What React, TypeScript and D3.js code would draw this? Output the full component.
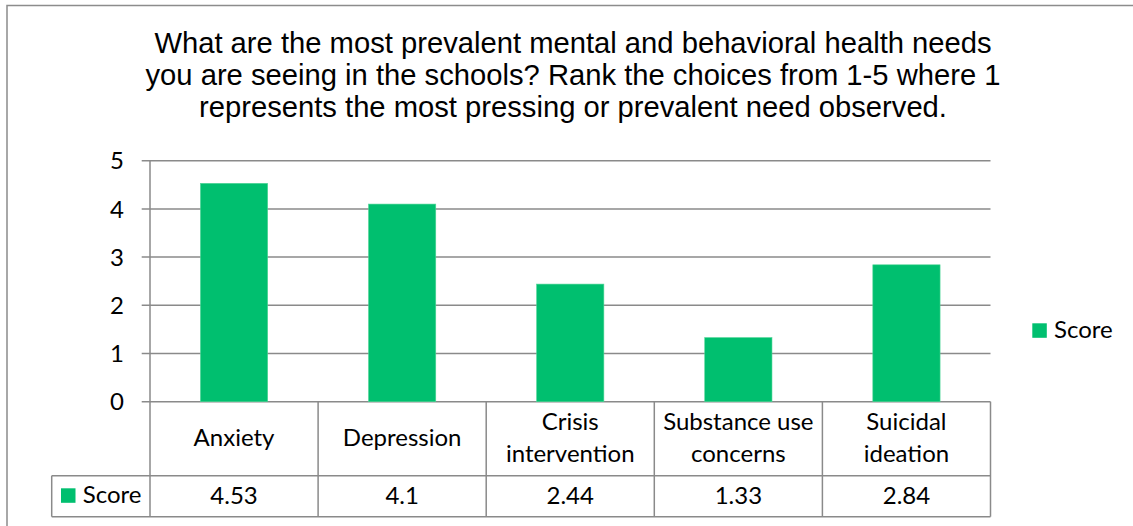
import React from "react";
import * as d3 from "d3";

// Survey ranking scores per mental/behavioral health need
const categories: string[][] = [
  ["Anxiety"],
  ["Depression"],
  ["Crisis", "intervention"],
  ["Substance use", "concerns"],
  ["Suicidal", "ideation"],
];
const scores: number[] = [4.53, 4.1, 2.44, 1.33, 2.84];
const valueLabels: string[] = ["4.53", "4.1", "2.44", "1.33", "2.84"];
const yTicks: number[] = [0, 1, 2, 3, 4, 5];
const seriesName = "Score";
const titleLines: string[] = [
  "What are the most prevalent mental and behavioral health needs",
  "you are seeing in the schools? Rank the choices from 1-5 where 1",
  "represents the most pressing or prevalent need observed.",
];

const W = 1133;
const H = 526;
const GREEN = "#00bf6f";
const GRID = "#8a8a8a";
const BODY_FONT = "Lato, 'Open Sans', sans-serif";
const TITLE_FONT = "'Liberation Sans', Arial, sans-serif";
const BODY_SIZE = 24;

export default function App() {
  const plotLeft = 150;
  const plotRight = 990.5;
  const plotTop = 160.7;
  const plotBottom = 401.7;
  const row1Bottom = 475.7;
  const tableBottom = 516.7;
  const legendColLeft = 51.7;

  const keys = categories.map((c) => c.join(" "));
  const x = d3.scaleBand<string>().domain(keys).range([plotLeft, plotRight]).padding(0);
  const y = d3.scaleLinear().domain([0, 5]).range([plotBottom, plotTop]);
  const bw = x.bandwidth();
  const barW = bw * 0.4;

  const boundaries = keys.map((k) => x(k) as number).concat([plotRight]);

  return (
    <svg
      width={W}
      height={H}
      style={{ position: "absolute", left: 0, top: 0, background: "#fff" }}
    >
      {/* chart frame */}
      <rect x={7} y={5.5} width={1140} height={540} fill="#fff" stroke="#8c8c8c" strokeWidth={1.5} />

      {/* title */}
      <g fontFamily={TITLE_FONT} fontSize={29.2} fill="#000" textAnchor="middle">
        {titleLines.map((t, i) => (
          <text key={i} x={573} y={53 + i * 31.8}>
            {t}
          </text>
        ))}
      </g>

      {/* gridlines and y ticks */}
      <g>
        {yTicks.map((t) => (
          <g key={t}>
            <line x1={141.7} x2={plotRight} y1={y(t)} y2={y(t)} stroke={GRID} strokeWidth={1.5} />
            <text
              x={124}
              y={y(t)}
              dy="0.36em"
              textAnchor="end"
              fontFamily={BODY_FONT}
              fontSize={BODY_SIZE}
              fill="#000"
            >
              {t}
            </text>
          </g>
        ))}
      </g>

      {/* bars */}
      <g>
        {keys.map((k, i) => (
          <rect
            key={k}
            x={(x(k) as number) + (bw - barW) / 2}
            y={y(scores[i])}
            width={barW}
            height={plotBottom - y(scores[i])}
            fill={GREEN}
            stroke="#4fd596"
            strokeWidth={0.6}
          />
        ))}
      </g>

      {/* data table */}
      <g stroke={GRID} strokeWidth={1.5} fill="none">
        <line x1={plotLeft} x2={plotLeft} y1={plotTop} y2={tableBottom} />
        {boundaries.slice(1).map((b, i) => (
          <line key={i} x1={b} x2={b} y1={plotBottom} y2={tableBottom} />
        ))}
        <line x1={legendColLeft} x2={plotRight} y1={row1Bottom} y2={row1Bottom} />
        <line x1={legendColLeft} x2={plotRight} y1={tableBottom} y2={tableBottom} />
        <line x1={legendColLeft} x2={legendColLeft} y1={row1Bottom} y2={tableBottom} />
      </g>

      <g fontFamily={BODY_FONT} fontSize={BODY_SIZE} fill="#000" textAnchor="middle">
        {categories.map((lines, i) => {
          const cx = (x(keys[i]) as number) + bw / 2;
          const mid = 446;
          const lh = 32;
          const start = mid - ((lines.length - 1) * lh) / 2;
          return (
            <text key={i} x={cx}>
              {lines.map((l, j) => (
                <tspan key={j} x={cx} y={start + j * lh}>
                  {l}
                </tspan>
              ))}
            </text>
          );
        })}
        {valueLabels.map((v, i) => (
          <text key={i} x={(x(keys[i]) as number) + bw / 2} y={504}>
            {v}
          </text>
        ))}
      </g>

      {/* legend key in table */}
      <rect x={61} y={488.3} width={14.5} height={14.5} fill={GREEN} />
      <text x={82.7} y={503} fontFamily={BODY_FONT} fontSize={BODY_SIZE} fill="#000">
        {seriesName}
      </text>

      {/* side legend */}
      <rect x={1032.3} y={323.3} width={14.5} height={14.5} fill={GREEN} />
      <text x={1054} y={338} fontFamily={BODY_FONT} fontSize={BODY_SIZE} fill="#000">
        {seriesName}
      </text>
    </svg>
  );
}
